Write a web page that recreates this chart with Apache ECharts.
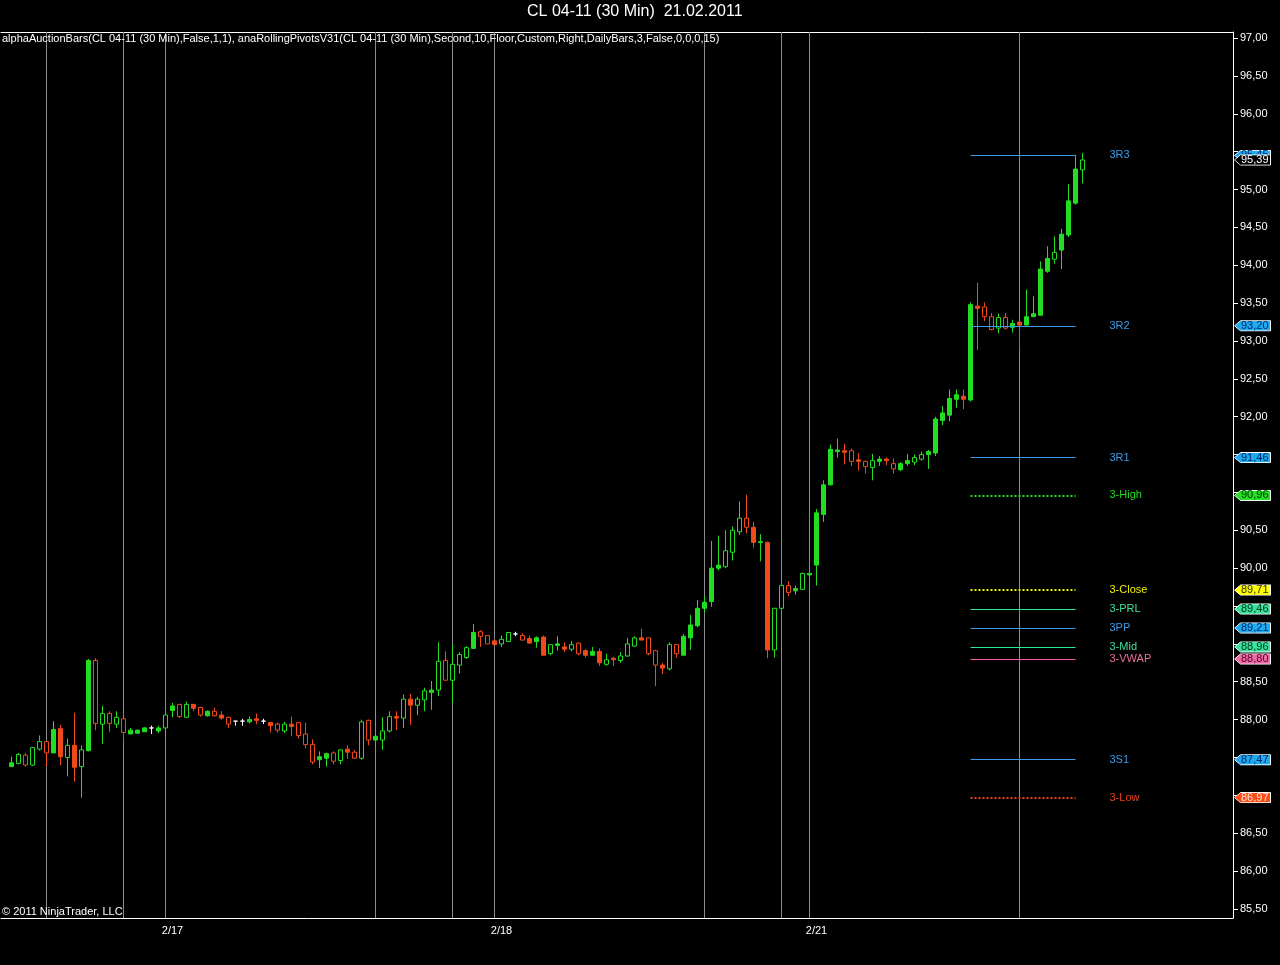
<!DOCTYPE html>
<html><head><meta charset="utf-8">
<style>html,body{margin:0;padding:0;background:#000;}#c{width:1280px;height:965px;}</style>
<script src="https://cdn.jsdelivr.net/npm/echarts@6/dist/echarts.min.js"></script>
</head><body><div id="c"></div>
<script>
// ---- data ----
const opens = [87.38,87.42,87.53,87.40,87.61,87.71,87.56,87.88,87.50,87.66,87.38,87.59,88.78,87.94,88.08,87.94,88.01,87.81,87.82,87.84,
87.89,87.85,87.89,88.12,88.20,88.03,88.20,88.16,88.05,88.11,88.06,88.03,87.98,87.98,87.97,88.01,87.98,87.96,87.94,87.85,
87.94,87.96,87.81,87.67,87.47,87.49,87.56,87.46,87.61,87.57,87.49,87.99,87.73,87.73,87.85,88.04,88.02,88.27,88.19,88.26,
88.36,88.39,88.78,88.52,88.72,88.82,88.94,89.16,89.11,89.04,89.00,89.03,89.13,89.11,89.07,89.03,89.09,88.87,88.98,88.96,
88.93,89.01,88.91,88.85,88.90,88.73,88.81,88.78,88.84,88.97,89.08,89.08,88.91,88.72,88.67,88.99,88.85,89.08,89.24,89.47,
89.56,90.00,90.02,90.21,90.48,90.66,90.54,90.34,90.34,88.92,89.47,89.77,89.70,89.72,89.91,90.04,90.71,91.10,91.54,91.55,
91.55,91.43,91.41,91.33,91.41,91.44,91.38,91.30,91.38,91.40,91.44,91.50,91.52,91.95,92.02,92.23,92.27,92.22,93.46,93.45,
93.32,93.17,93.31,93.18,93.25,93.21,93.32,93.34,93.92,94.08,94.20,94.40,94.82,95.26];
const closes = [87.43,87.54,87.40,87.63,87.71,87.56,87.87,87.51,87.66,87.37,87.60,88.78,87.95,88.08,87.95,88.03,87.83,87.86,87.86,87.89,
87.89,87.89,88.06,88.18,88.04,88.20,88.15,88.06,88.11,88.05,88.02,87.94,87.98,87.98,88.00,87.99,87.98,87.92,87.86,87.94,
87.91,87.79,87.67,87.44,87.51,87.55,87.45,87.60,87.57,87.49,87.97,87.73,87.78,87.85,88.04,88.02,88.27,88.19,88.27,88.38,
88.39,88.77,88.52,88.73,88.86,88.95,89.15,89.10,89.00,88.99,89.06,89.15,89.13,89.05,89.01,89.08,88.85,88.99,89.00,88.93,
88.99,88.87,88.85,88.90,88.75,88.79,88.79,88.84,89.00,89.08,89.05,88.87,88.72,88.68,88.99,88.87,89.10,89.25,89.47,89.55,
90.00,90.04,90.23,90.50,90.66,90.54,90.34,90.35,88.92,89.47,89.77,89.68,89.73,89.93,89.93,90.73,91.10,91.57,91.56,91.53,
91.41,91.41,91.34,91.42,91.44,91.42,91.31,91.38,91.42,91.46,91.50,91.54,91.97,92.05,92.24,92.29,92.23,93.48,93.43,93.32,
93.15,93.31,93.17,93.23,93.21,93.32,93.36,93.95,94.09,94.17,94.41,94.85,95.27,95.39];
const lows = [87.37,87.41,87.38,87.39,87.59,87.38,87.56,87.40,87.25,87.18,86.97,87.58,87.86,87.68,87.84,87.89,87.73,87.81,87.82,87.84,
87.81,87.82,87.82,88.03,88.02,88.02,88.11,88.04,88.04,88.04,88.00,87.89,87.92,87.92,87.95,87.94,87.94,87.83,87.83,87.82,
87.78,87.75,87.62,87.41,87.36,87.38,87.41,87.41,87.48,87.48,87.47,87.66,87.60,87.60,87.83,87.86,87.89,87.93,88.06,88.11,
88.13,88.31,88.52,88.22,88.61,88.80,88.93,88.96,89.00,88.99,88.96,89.03,89.10,89.05,89.00,88.95,88.85,88.85,88.91,88.89,
88.90,88.85,88.82,88.84,88.71,88.71,88.71,88.75,88.83,88.96,89.05,88.85,88.44,88.60,88.65,88.82,88.85,88.92,89.22,89.41,
89.49,89.97,90.00,90.10,90.44,90.46,90.27,90.09,88.81,88.82,89.45,89.63,89.65,89.71,89.89,89.77,90.61,91.09,91.46,91.37,
91.35,91.29,91.25,91.16,91.35,91.36,91.25,91.28,91.35,91.36,91.42,91.31,91.48,91.89,91.94,92.12,92.10,92.20,92.88,93.26,
93.14,93.10,93.15,93.11,92.88,93.21,93.32,93.34,93.90,94.02,93.95,94.37,94.80,95.08];
const highs = [87.51,87.56,87.56,87.64,87.79,87.71,87.98,87.93,87.75,88.09,87.66,88.80,88.81,88.18,88.11,88.11,88.01,87.89,87.87,87.90,
87.92,87.92,88.08,88.22,88.21,88.24,88.21,88.17,88.12,88.16,88.11,88.04,87.98,88.01,88.04,88.08,88.01,87.97,87.96,87.97,
88.04,87.97,87.96,87.74,87.58,87.56,87.58,87.61,87.66,87.60,88.00,88.00,88.20,88.03,88.11,88.11,88.33,88.34,88.30,88.42,
88.51,89.02,88.90,88.99,88.89,88.97,89.26,89.18,89.11,89.06,89.11,89.15,89.16,89.14,89.11,89.10,89.11,88.99,89.10,89.02,
89.04,89.02,88.93,88.96,88.94,88.87,88.83,88.89,89.08,89.10,89.20,89.08,88.92,88.75,89.02,88.99,89.13,89.38,89.58,89.63,
90.36,90.43,90.50,90.55,90.88,90.97,90.61,90.45,90.35,89.47,90.09,89.83,89.77,89.94,89.98,90.78,91.16,91.63,91.71,91.64,
91.58,91.52,91.42,91.51,91.48,91.46,91.45,91.40,91.51,91.50,91.54,91.56,92.00,92.14,92.36,92.36,92.36,93.51,93.77,93.51,
93.37,93.36,93.37,93.28,93.25,93.68,93.59,94.05,94.25,94.38,94.48,95.07,95.46,95.48];
// bar numbers (1-based) drawn as hollow (outline) candles by alphaAuctionBars
const hollowBars = [2,3,4,5,6,9,11,13,14,15,16,17,23,25,26,28,30,32,39,40,42,43,44,47,48,50,51,52,54,55,57,59,60,62,63,64,65,66,
68,69,71,72,74,78,81,82,86,88,89,90,92,93,95,96,103,104,105,106,110,111,112,114,121,123,124,127,130,131,140,141,142,143,150,154];
const sessionLineBars = [6,17,23,53,64,70,100,111,115,145];
const dateLabels = ['2/17','2/18','2/21'];
const dateLabelBars = [24,71,116];
const slotCount = 176;
const yTickValues = [85.5,86,86.5,87,87.5,88,88.5,89,89.5,90,90.5,91,91.5,92,92.5,93,93.5,94,94.5,95,95.5,96,96.5,97];
const pivotNames  = ['3R3','3R2','3R1','3-High','3-Close','3-PRL','3PP','3-Mid','3-VWAP','3S1','3-Low'];
const pivotValues = [95.45,93.20,91.46,90.96,89.71,89.46,89.21,88.96,88.80,87.47,86.97];
const pivotStartBar = 138, pivotEndBar = 153;
const lastPrice = 95.39;

// ---- styles ----
const FONT = "'Liberation Sans', Arial, sans-serif";
const UP = '#22dd22', DOWN = '#f04a1a', DOJI = '#ffffff';
const pivotStyle = {
  '3R3':    {line:'#3d9be9', text:'#3d9be9', tag:'#1eaaf0', tagText:'#002a66', dash:'solid'},
  '3R2':    {line:'#3d9be9', text:'#3d9be9', tag:'#1eaaf0', tagText:'#002a66', dash:'solid'},
  '3R1':    {line:'#3d9be9', text:'#3d9be9', tag:'#1eaaf0', tagText:'#002a66', dash:'solid'},
  '3-High': {line:'#22dd22', text:'#22dd22', tag:'#22e022', tagText:'#003300', dash:'dot'},
  '3-Close':{line:'#eeee00', text:'#eeee00', tag:'#ffff00', tagText:'#333300', dash:'dot'},
  '3-PRL':  {line:'#2ee890', text:'#3ee09c', tag:'#36e49c', tagText:'#00331c', dash:'solid'},
  '3PP':    {line:'#3d9be9', text:'#3d9be9', tag:'#1eaaf0', tagText:'#002a66', dash:'solid'},
  '3-Mid':  {line:'#2ee890', text:'#3ee09c', tag:'#36e49c', tagText:'#00331c', dash:'solid'},
  '3-VWAP': {line:'#ff5aa8', text:'#e8709f', tag:'#f06aa8', tagText:'#550022', dash:'solid'},
  '3S1':    {line:'#3d9be9', text:'#3d9be9', tag:'#1eaaf0', tagText:'#002a66', dash:'solid'},
  '3-Low':  {line:'#e8401a', text:'#e8401a', tag:'#ff4a12', tagText:'#ffe4dc', dash:'dot'}
};

function tagImage(fill, stroke) {
  const cv = document.createElement('canvas');
  cv.width = 37; cv.height = 13;
  const g = cv.getContext('2d');
  g.beginPath();
  g.moveTo(0.5, 6.5); g.lineTo(6.5, 0.5); g.lineTo(36.5, 0.5); g.lineTo(36.5, 12.5); g.lineTo(6.5, 12.5);
  g.closePath();
  g.fillStyle = fill; g.fill();
  g.strokeStyle = stroke; g.lineWidth = 1; g.stroke();
  return cv;
}
const fmt = v => v.toFixed(2).replace('.', ',');

// ---- build ----
const categories = Array.from({length: slotCount}, (_, i) => String(i));
const hollowSet = new Set(hollowBars);
const candleData = opens.map((o, k) => {
  const c = closes[k];
  let st;
  if (o === c) st = {color: DOJI, color0: DOJI, borderColor: DOJI, borderColor0: DOJI};
  else {
    const col = c > o ? UP : DOWN;
    const fill = hollowSet.has(k + 1) ? '#000' : col;
    st = {color: fill, color0: fill, borderColor: col, borderColor0: col};
  }
  return {value: [k + 1, o, c, lows[k], highs[k]], itemStyle: st};
});

// price labels hidden where a value tag covers them
const tagValues = pivotValues.concat([lastPrice]);
const shownTickLabels = yTickValues.filter(t => tagValues.every(p => Math.abs(p - t) > 0.1));

const tagRich = {};
pivotNames.forEach((n, i) => {
  const s = pivotStyle[n];
  tagRich['p' + i] = {backgroundColor: {image: tagImage(s.tag, '#ffffff')}, width: 30, padding: [0, 0, 0, 7],
    lineHeight: 13, color: s.tagText, fontSize: 11, fontFamily: FONT, align: 'left'};
});
tagRich.last = {backgroundColor: {image: tagImage('#000000', '#ffffff')}, width: 30, padding: [0, 0, 0, 7],
  lineHeight: 13, color: '#ffffff', fontSize: 11, fontFamily: FONT, align: 'left'};

const pivotLines = pivotNames.map((n, i) => {
  const s = pivotStyle[n];
  const dotted = s.dash === 'dot';
  return [
    {coord: [pivotStartBar, pivotValues[i]], name: n,
     lineStyle: {color: s.line, width: dotted ? 2 : 1, type: dotted ? [2, 2] : 'solid', opacity: 1},
     label: {show: true, position: 'end', formatter: '{b}', distance: 34, color: s.text, fontSize: 11, fontFamily: FONT}},
    {coord: [pivotEndBar, pivotValues[i]]}
  ];
});

const YMIN = 85.38, YMAX = 97.08;
const chart = echarts.init(document.getElementById('c'), null, {renderer: 'canvas'});
chart.setOption({
  animation: false,
  backgroundColor: '#000',
  title: [
    {text: 'CL 04-11 (30 Min)  21.02.2011', left: 527, top: 4, padding: 0,
     textStyle: {color: '#fff', fontSize: 16, fontWeight: 'normal', fontFamily: FONT}},
    {text: 'alphaAuctionBars(CL 04-11 (30 Min),False,1,1), anaRollingPivotsV31(CL 04-11 (30 Min),Second,10,Floor,Custom,Right,DailyBars,3,False,0,0,0,15)',
     left: 2, top: 33, padding: 0, textStyle: {color: '#fff', fontSize: 11, fontWeight: 'normal', fontFamily: FONT}},
    {text: '\u00a9 2011 NinjaTrader, LLC', left: 2, top: 906, padding: 0,
     textStyle: {color: '#fff', fontSize: 11, fontWeight: 'normal', fontFamily: FONT}}
  ],
  grid: {left: 1, right: 47, top: 32, bottom: 47, show: false},
  xAxis: [
    {type: 'category', data: categories, boundaryGap: true, position: 'bottom',
     axisLine: {lineStyle: {color: '#fff'}},
     axisTick: {alignWithLabel: true, length: 5, lineStyle: {color: '#fff'},
       interval: (idx) => dateLabelBars.indexOf(idx) >= 0},
     axisLabel: {interval: 0, color: '#fff', fontSize: 11, fontFamily: FONT, margin: 7,
       formatter: (v, idx) => { const j = dateLabelBars.indexOf(idx); return j >= 0 ? dateLabels[j] : ''; }},
     splitLine: {show: false}},
    {type: 'category', data: categories, position: 'top',
     axisLine: {show: true, lineStyle: {color: '#fff'}}, axisTick: {show: false}, axisLabel: {show: false}, splitLine: {show: false}}
  ],
  yAxis: [
    {type: 'value', position: 'right', min: YMIN, max: YMAX, scale: true,
     axisLine: {show: true, lineStyle: {color: '#fff'}},
     axisTick: {show: true, length: 5, lineStyle: {color: '#fff'}, customValues: yTickValues},
     axisLabel: {color: '#fff', fontSize: 11, fontFamily: FONT, margin: 7, customValues: shownTickLabels, formatter: v => fmt(v)},
     splitLine: {show: false}},
    {type: 'value', position: 'right', min: YMIN, max: YMAX, scale: true, z: 5,
     axisLine: {show: false}, axisTick: {show: false}, splitLine: {show: false},
     axisLabel: {margin: 1, customValues: pivotValues, rich: tagRich,
       formatter: v => {
         let best = 0;
         pivotValues.forEach((p, i) => { if (Math.abs(p - v) < Math.abs(pivotValues[best] - v)) best = i; });
         return '{p' + best + '|' + fmt(pivotValues[best]) + '}';
       }}},
    {type: 'value', position: 'right', min: YMIN, max: YMAX, scale: true, z: 6,
     axisLine: {show: false}, axisTick: {show: false}, splitLine: {show: false},
     axisLabel: {margin: 1, customValues: [lastPrice], rich: tagRich, formatter: v => '{last|' + fmt(v) + '}'}}
  ],
  series: [
    {type: 'line', data: [], xAxisIndex: 0, yAxisIndex: 0, z: 1, silent: true,
     markLine: {z: 1, silent: true, symbol: 'none', animation: false, label: {show: false},
       lineStyle: {color: '#8a8a8a', width: 1, type: 'solid'},
       data: sessionLineBars.map(b => ({xAxis: b}))}},
    {type: 'candlestick', name: 'CL 04-11', xAxisIndex: 0, yAxisIndex: 0, z: 2,
     dimensions: ['bar', 'open', 'close', 'lowest', 'highest'],
     encode: {x: 'bar', y: ['open', 'close', 'lowest', 'highest']},
     barWidth: 4, data: candleData,
     itemStyle: {color: UP, color0: DOWN, borderColor: UP, borderColor0: DOWN, borderWidth: 1}},
    {type: 'line', data: [], xAxisIndex: 0, yAxisIndex: 0, z: 3, silent: true,
     markLine: {z: 3, silent: true, symbol: 'none', animation: false, data: pivotLines}}
  ]
});
</script></body></html>
